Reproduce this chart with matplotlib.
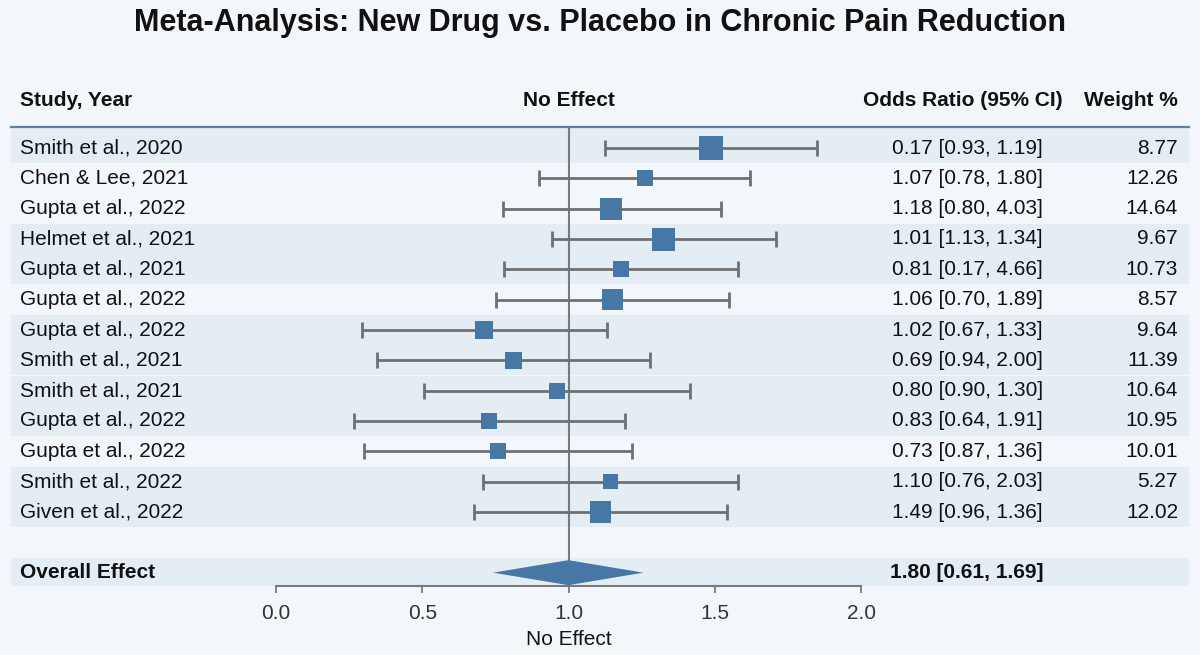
import matplotlib
matplotlib.use('Agg')
import matplotlib.pyplot as plt
from matplotlib.patches import Rectangle, Polygon
import matplotlib.transforms as mtransforms

plt.rcParams['font.family'] = ['Liberation Sans', 'DejaVu Sans']

# ---------------- data ----------------
studies = ["Smith et al., 2020", "Chen & Lee, 2021", "Gupta et al., 2022",
           "Helmet et al., 2021", "Gupta et al., 2021", "Gupta et al., 2022",
           "Gupta et al., 2022", "Smith et al., 2021", "Smith et al., 2021",
           "Gupta et al., 2022", "Gupta et al., 2022", "Smith et al., 2022",
           "Given et al., 2022"]
odds_ratio = [1.488, 1.26, 1.147, 1.325, 1.178, 1.150, 0.710, 0.812, 0.959,
              0.729, 0.760, 1.143, 1.110]
ci_low = [1.126, 0.900, 0.776, 0.942, 0.779, 0.751, 0.293, 0.345, 0.507,
          0.265, 0.302, 0.709, 0.678]
ci_high = [1.850, 1.620, 1.522, 1.710, 1.580, 1.550, 1.130, 1.280, 1.415,
           1.194, 1.217, 1.579, 1.543]
or_labels = ["0.17 [0.93, 1.19]", "1.07 [0.78, 1.80]", "1.18 [0.80, 4.03]",
             "1.01 [1.13, 1.34]", "0.81 [0.17, 4.66]", "1.06 [0.70, 1.89]",
             "1.02 [0.67, 1.33]", "0.69 [0.94, 2.00]", "0.80 [0.90, 1.30]",
             "0.83 [0.64, 1.91]", "0.73 [0.87, 1.36]", "1.10 [0.76, 2.03]",
             "1.49 [0.96, 1.36]"]
weights = ["8.77", "12.26", "14.64", "9.67", "10.73", "8.57", "9.64", "11.39",
           "10.64", "10.95", "10.01", "5.27", "12.02"]
overall_or = 1.0
overall_low = 0.742
overall_high = 1.256
overall_label = "1.80 [0.61, 1.69]"
x_ticks = [0.0, 0.5, 1.0, 1.5, 2.0]
x_tick_labels = ["0.0", "0.5", "1.0", "1.5", "2.0"]
headers = ["Study, Year", "No Effect", "Odds Ratio (95% CI)", "Weight %"]

# ---------------- style ----------------
shaded_rows = [0, 3, 4, 6, 7, 8, 9, 11, 12]
box_px = [24, 16, 22, 23, 16, 21, 18, 16.5, 16, 16, 16, 15, 21.5]
BG = '#f3f7fb'
BAND = '#e4ecf4'
BLUE = '#4777a5'
GREY = '#707070'
TXT = '#111111'

W, H = 1200, 655
fig = plt.figure(figsize=(12, 6.55), dpi=100, facecolor=BG)


def fx(px):
    return px / W


def fy(py):
    return 1 - py / H


ax = fig.add_axes([fx(276), fy(586), fx(861) - fx(276), fy(127) - fy(586)])
ax.set_facecolor('none')
n = len(studies)
pitch = (512 - 148) / (n - 1)
ax.set_xlim(0, 2)
ax.set_ylim((586 - 148) / pitch, (127 - 148) / pitch)
rows = list(range(n))
overall_row = n + 1
header_y = (101 - 148) / pitch
header_line_y = (127 - 148) / pitch

trans = mtransforms.blended_transform_factory(fig.transFigure, ax.transData)

# bands
for r in shaded_rows:
    lo = r - 0.5 if r > 0 else header_line_y
    ax.add_patch(Rectangle((fx(11), lo), fx(1189) - fx(11), r + 0.5 - lo,
                           transform=trans, facecolor=BAND, edgecolor='none',
                           zorder=0, clip_on=False))
ax.add_patch(Rectangle((fx(11), overall_row - 0.5), fx(1189) - fx(11), 0.95,
                       transform=trans, facecolor=BAND, edgecolor='none',
                       zorder=0, clip_on=False))

# header line
ax.plot([fx(11), fx(1189)], [header_line_y, header_line_y], transform=trans,
        color='#5b80a5', lw=1.6, clip_on=False, zorder=2)

# no-effect line
ax.axvline(1.0, color='#7a7a7a', lw=1.5, zorder=1)

# error bars and boxes
xerr = [[o - l for o, l in zip(odds_ratio, ci_low)],
        [h - o for o, h in zip(odds_ratio, ci_high)]]
ax.errorbar(odds_ratio, rows, xerr=xerr, fmt='none', ecolor=GREY,
            elinewidth=2, capsize=6, capthick=2, zorder=2)
ax.scatter(odds_ratio, rows, marker='s', s=[(p * 0.72) ** 2 for p in box_px],
           color=BLUE, linewidths=0, zorder=3)

# overall diamond
hh = 12.5 / pitch
ax.add_patch(Polygon([(overall_low, overall_row), (overall_or, overall_row - hh),
                      (overall_high, overall_row), (overall_or, overall_row + hh)],
                     closed=True, facecolor=BLUE, edgecolor='none', zorder=3))

# axis
for s in ['top', 'left', 'right']:
    ax.spines[s].set_visible(False)
ax.spines['bottom'].set_color('#7a7a7a')
ax.spines['bottom'].set_linewidth(1.5)
ax.set_yticks([])
ax.set_xticks(x_ticks)
ax.set_xticklabels(x_tick_labels)
ax.tick_params(axis='x', length=5, width=1.3, color='#7a7a7a', labelsize=15,
               labelcolor='#333333', pad=8)
ax.set_xlabel('No Effect', fontsize=15, color=TXT, labelpad=5)

# texts
for r, name, orl, wt in zip(rows, studies, or_labels, weights):
    ax.text(fx(20), r, name, transform=trans, ha='left', va='center',
            fontsize=15, color=TXT)
    ax.text(fx(1043), r, orl, transform=trans, ha='right', va='center',
            fontsize=15, color=TXT)
    ax.text(fx(1178), r, wt, transform=trans, ha='right', va='center',
            fontsize=15, color=TXT)

ax.text(fx(20), overall_row, 'Overall Effect', transform=trans, ha='left',
        va='center', fontsize=15, fontweight='bold', color=TXT)
ax.text(fx(1043), overall_row, overall_label, transform=trans, ha='right',
        va='center', fontsize=15, fontweight='bold', color=TXT)

ax.text(fx(20), header_y, headers[0], transform=trans, ha='left', va='center',
        fontsize=15, fontweight='bold', color=TXT)
ax.text(1.0, header_y, headers[1], transform=ax.transData, ha='center',
        va='center', fontsize=15, fontweight='bold', color=TXT)
ax.text(fx(1063), header_y, headers[2], transform=trans, ha='right',
        va='center', fontsize=15, fontweight='bold', color=TXT)
ax.text(fx(1178), header_y, headers[3], transform=trans, ha='right',
        va='center', fontsize=15, fontweight='bold', color=TXT)

fig.text(0.5, fy(23), 'Meta-Analysis: New Drug vs. Placebo in Chronic Pain Reduction',
         ha='center', va='center', fontsize=22, fontweight='bold', color=TXT)

fig.savefig('out.png', dpi=100, facecolor=fig.get_facecolor())
